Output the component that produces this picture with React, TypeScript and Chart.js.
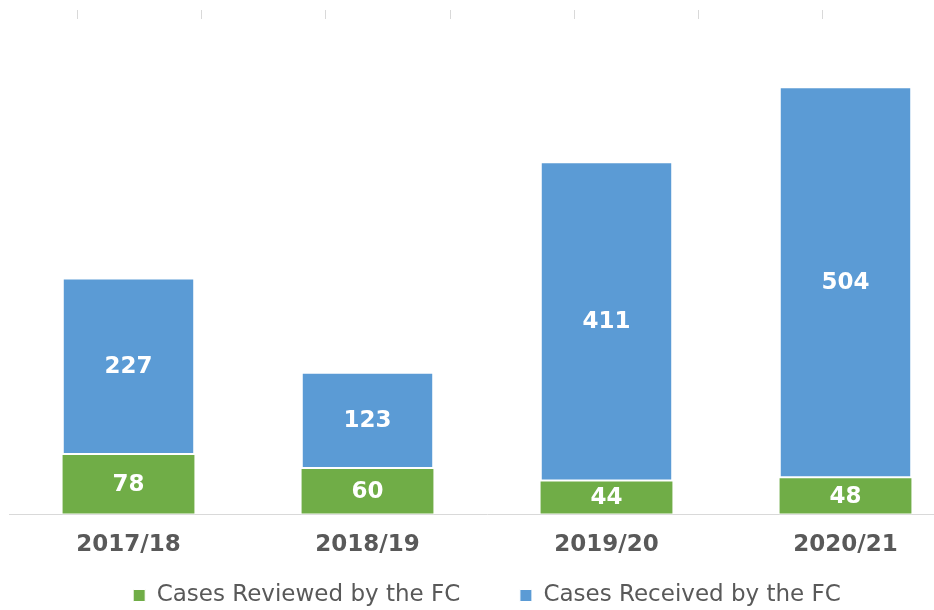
import React, { useEffect, useRef } from "react";
import { Chart, registerables } from "chart.js";

Chart.register(...registerables);

const categories = ["2017/18", "2018/19", "2019/20", "2020/21"];
const reviewed = [78, 60, 44, 48];
const received = [227, 123, 411, 504];
const seriesNames = ["Cases Reviewed by the FC", "Cases Received by the FC"];
const topTickFractions = [0, 1, 2, 3, 4, 5, 6];

const FONT = "'DejaVu Sans', Verdana, sans-serif";

const valueLabels = {
  id: "valueLabels",
  afterDatasetsDraw(chart: any) {
    const ctx = chart.ctx;
    ctx.save();
    ctx.fillStyle = "#ffffff";
    ctx.font = `bold 23px ${FONT}`;
    ctx.textAlign = "center";
    ctx.textBaseline = "middle";
    chart.data.datasets.forEach((ds: any, di: number) => {
      const meta = chart.getDatasetMeta(di);
      meta.data.forEach((el: any, i: number) => {
        const y = (el.y + el.base) / 2;
        ctx.fillText(String(ds.data[i]), el.x, y + 1);
      });
    });
    ctx.restore();
  },
};

const topTicks = {
  id: "topTicks",
  beforeDraw(chart: any) {
    const ctx = chart.ctx;
    ctx.save();
    ctx.strokeStyle = "#d9d9d9";
    ctx.lineWidth = 1;
    topTickFractions.forEach((k) => {
      const x = Math.round(77 + k * 124.2) + 0.5;
      ctx.beginPath();
      ctx.moveTo(x, 10);
      ctx.lineTo(x, 19);
      ctx.stroke();
    });
    ctx.restore();
  },
};

export default function App() {
  const ref = useRef<HTMLCanvasElement>(null);
  useEffect(() => {
    if (!ref.current) return;
    const chart = new Chart(ref.current, {
      type: "bar",
      data: {
        labels: categories,
        datasets: [
          {
            label: seriesNames[0],
            data: reviewed,
            backgroundColor: "#70AD47",
            borderColor: "#ffffff",
            borderWidth: 1,
            borderSkipped: false,
            categoryPercentage: 1,
            barPercentage: 0.56,
          },
          {
            label: seriesNames[1],
            data: received,
            backgroundColor: "#5B9BD5",
            borderColor: "#ffffff",
            borderWidth: 1,
            borderSkipped: false,
            categoryPercentage: 1,
            barPercentage: 0.55,
          },
        ],
      },
      options: {
        responsive: false,
        animation: false,
        layout: { padding: { left: 9, right: 19, top: 50, bottom: 0 } },
        scales: {
          x: {
            stacked: true,
            grid: { display: false, drawTicks: false },
            border: { display: true, color: "#d9d9d9", width: 1 },
            ticks: {
              color: "#595959",
              font: { family: FONT, size: 23, weight: "bold", lineHeight: 1 },
              padding: 19,
            },
          },
          y: {
            stacked: true,
            display: false,
            min: 0,
            max: 600,
          },
        },
        plugins: {
          legend: {
            position: "bottom",
            labels: {
              color: "#595959",
              font: { family: FONT, size: 23 },
              boxWidth: 12,
              boxHeight: 12,
              padding: 8.5,
              generateLabels: (c: any) => {
                const items = Chart.defaults.plugins.legend.labels.generateLabels(c);
                return items.map((it: any, i: number) =>
                  i < items.length - 1 ? { ...it, text: it.text + "       " } : it
                );
              },
            },
          },
          tooltip: { enabled: false },
        },
      },
      plugins: [valueLabels, topTicks],
    });
    return () => chart.destroy();
  }, []);

  return (
    <div
      style={{
        position: "fixed",
        left: 0,
        top: 0,
        width: 934,
        height: 610,
        overflow: "hidden",
        background: "#ffffff",
      }}
    >
      <canvas ref={ref} width={984} height={617} style={{ display: "block" }} />
    </div>
  );
}
